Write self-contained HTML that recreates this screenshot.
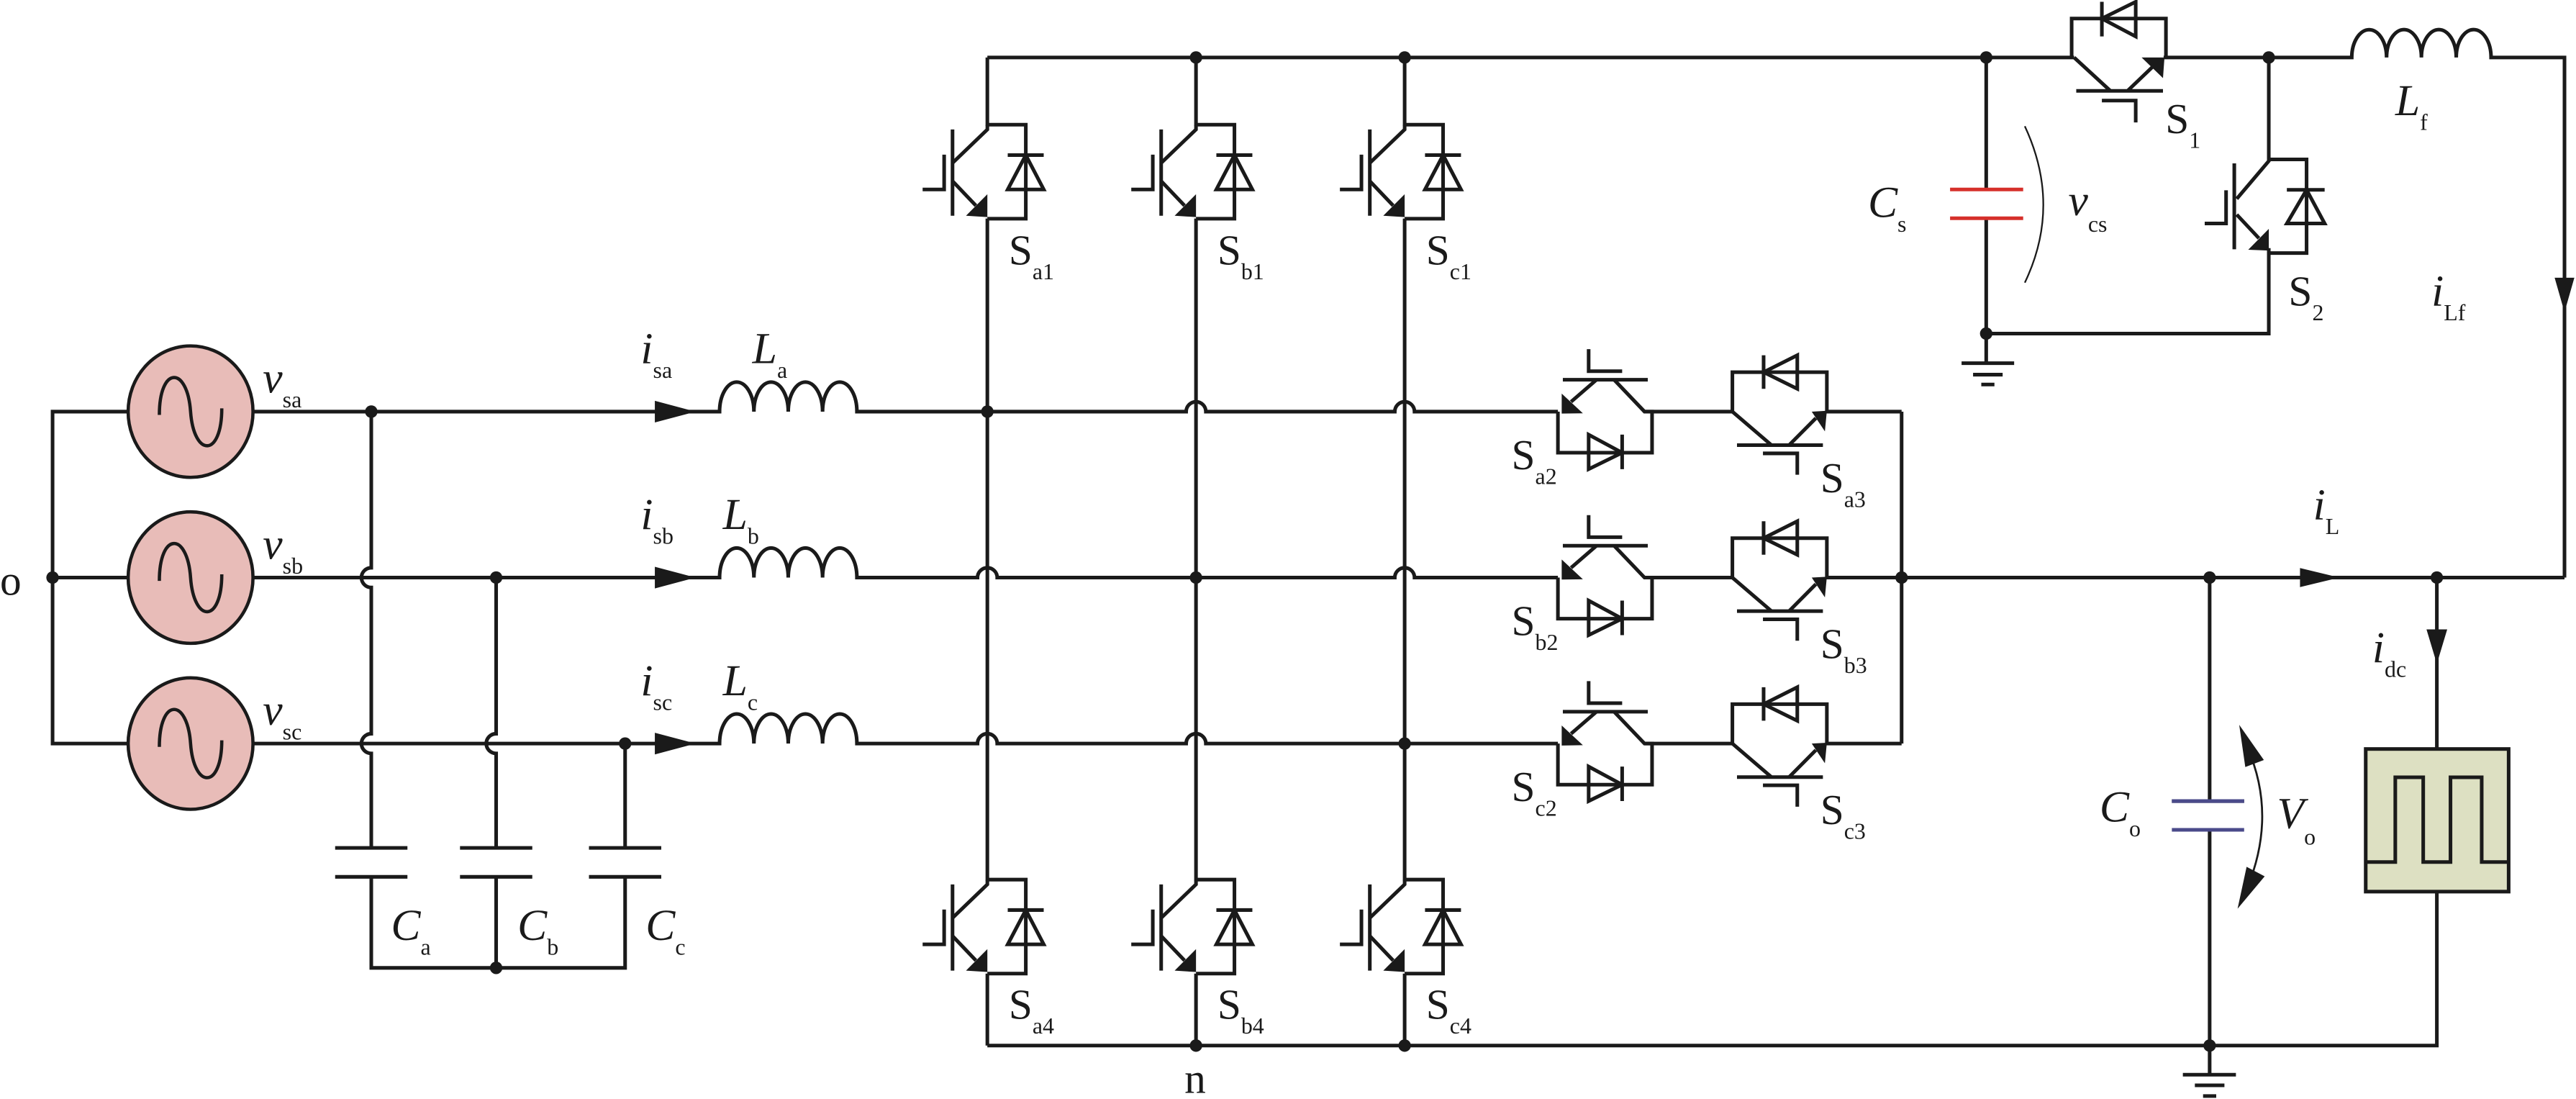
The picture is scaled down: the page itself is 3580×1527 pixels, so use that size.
<!DOCTYPE html>
<html><head><meta charset="utf-8"><style>
html,body{margin:0;padding:0;background:#fff}
svg{display:block}
text{font-family:"Liberation Serif",serif;fill:#1a1a1a}
.m{font-style:italic;font-size:27px}
.s{font-size:26px}
.sb{font-size:14px;font-style:normal}
</style></head><body>
<svg width="3580" height="1527" viewBox="0 0 1568 668.8" preserveAspectRatio="none" xmlns="http://www.w3.org/2000/svg">
<defs>
<g id="igbt" fill="none" stroke="#1a1a1a" stroke-width="2.2">
 <path d="M0,-0.5 V2.2 L-21.2,22.6"/>
 <path d="M-21.2,2.2 V54.7"/>
 <path d="M-39.4,38.7 H-26.3 V17.5"/>
 <path d="M-21.2,33.6 L-7,48.5"/>
 <path d="M0,-0.7 H23.4 V56.5 H0"/>
 <path d="M12.4,17.8 H34.3 M23.4,17.8 L12.4,38.7 H34.3 Z"/>
 <polygon fill="#1a1a1a" stroke="none" points="-13,54.7 0,41.6 0,55.5"/>
</g>
<g id="ac" fill="none" stroke="#1a1a1a" stroke-width="2.2">
 <path d="M0,0 V25 H57.3 V0 H52.7 L34.2,-19.4"/>
 <path d="M3,-19.4 H54.7"/>
 <path d="M23.5,-19.4 L8,-6"/>
 <polygon fill="#1a1a1a" stroke="none" points="2.3,-11 2.3,1.2 15.2,1"/>
 <path d="M18.7,-38 V-24.6 H39.1"/>
 <path d="M18.7,14 V35 L39.1,25 Z M39.1,14 V35"/>
 <path d="M52.7,0 H106.2 V-24 H163.7 V0 H209.2"/>
 <path d="M125.2,-34.3 V-13.9 M145.7,-34.3 V-13.9 L125.2,-24 Z"/>
 <path d="M106.2,0 L130,20.4"/>
 <path d="M109,20.4 H161.3"/>
 <path d="M140.7,20.4 L157,4"/>
 <polygon fill="#1a1a1a" stroke="none" points="154.5,0 163.7,-0.5 162.5,12"/>
 <path d="M124.8,25.4 H145.7 V38.4"/>
</g>
<g id="src">
 <ellipse cx="0" cy="0" rx="38" ry="40" fill="#e8bcb8" stroke="#1a1a1a" stroke-width="2"/>
 <path d="M-19,2 C-19,-28 -2,-28 0,0 C2,28 19,28 19,-2" fill="none" stroke="#1a1a1a" stroke-width="2"/>
</g>
</defs>

<g fill="none" stroke="#1a1a1a" stroke-width="2.2">
 <path d="M78,250.5 H32 V452.5 H78 M32,351.5 H78"/>
 <path d="M154,250.5 H438 a10.45,18 0 0 1 20.9,0 a10.45,18 0 0 1 20.9,0 a10.45,18 0 0 1 20.9,0 a10.45,18 0 0 1 20.9,0 H722 a6,6 0 0 1 12,0 H849 a6,6 0 0 1 12,0 H948.3"/>
 <path d="M154,351.5 H438 a10.45,18 0 0 1 20.9,0 a10.45,18 0 0 1 20.9,0 a10.45,18 0 0 1 20.9,0 a10.45,18 0 0 1 20.9,0 H595 a6,6 0 0 1 12,0 H849 a6,6 0 0 1 12,0 H948.3"/>
 <path d="M154,452.5 H438 a10.45,18 0 0 1 20.9,0 a10.45,18 0 0 1 20.9,0 a10.45,18 0 0 1 20.9,0 a10.45,18 0 0 1 20.9,0 H595 a6,6 0 0 1 12,0 H722 a6,6 0 0 1 12,0 H948.3"/>
 <path d="M226,250.5 V345.5 a6,6 0 0 0 0,12 V446.5 a6,6 0 0 0 0,12 V516 M204,516 H248 M204,533.6 H248 M226,533.6 V589 H380.5 V533.6"/>
 <path d="M302,351.5 V446.5 a6,6 0 0 0 0,12 V516 M280,516 H324 M280,533.6 H324 M302,533.6 V589"/>
 <path d="M380.5,452.5 V516 M358.5,516 H402.5 M358.5,533.6 H402.5"/>
 <path d="M601,35 V76.6 M601,133 V536 M601,592.5 V636.3"/>
 <path d="M728,35 V76.6 M728,133 V536 M728,592.5 V636.3"/>
 <path d="M855,35 V76.6 M855,133 V536 M855,592.5 V636.3"/>
 <path d="M601,35 H1262.5 M1261,35 V11.3 H1318.4 V35 M1317,35 H1431.5 a10.6,17 0 0 1 21.2,0 a10.6,17 0 0 1 21.2,0 a10.6,17 0 0 1 21.2,0 a10.6,17 0 0 1 21.2,0 H1561 V351.5"/>
 <path d="M601,636.3 H1483.3 V542.6 M1483.3,455.8 V351.5"/>
 <path d="M1157.5,250.5 V452.5 M1157.5,351.5 H1561"/>
 <path d="M1345,351.5 V487.5 M1322,487.5 H1366 M1345,505 V654" />
 <path d="M1328.7,654 H1361 M1336,660.5 H1354 M1341,667 H1349"/>
 <path d="M1279.4,1.1 V22.2 M1300,1.1 V22.2 L1279.4,11.3 Z"/>
 <path d="M1262.5,35 L1284.6,55.3 M1263.8,55.3 H1316.6 M1295,55.3 L1311,40 M1279.4,61.2 H1300 V74.5"/>
 <path d="M1381,35 V98 L1361.5,121 M1381,97 H1404 V154 H1381 M1381,151 V203 H1210"/>
 <path d="M1392,115.5 H1415 M1404,115.5 L1392,136 H1415 Z"/>
 <path d="M1360,99.4 V151.7 M1361.5,130.6 L1375,145 M1342,136 H1355 V115.8"/>
 <path d="M1209,35 V115.3 M1209,132.8 V221"/>
 <path d="M1194,221 H1226 M1201,228 H1219 M1206,234 H1214"/>
</g>
<polygon fill="#1a1a1a" points="1303.6,35 1317.5,35 1316.6,47.5"/>
<polygon fill="#1a1a1a" points="1368.5,152 1381,139.3 1381,152.5"/>
<path d="M1187,115.3 H1231.5 M1187,132.8 H1231.5" stroke="#d6302b" stroke-width="2.2"/>
<path d="M1232.5,76.8 Q1255,125 1232.5,172" fill="none" stroke="#1a1a1a" stroke-width="1"/>
<path d="M1322,505 H1366 M1322,487.5 H1366" stroke="#4a4a8a" stroke-width="2.2"/>
<path d="M1368,455 Q1386,496 1368,540" fill="none" stroke="#1a1a1a" stroke-width="1.2"/>
<polygon fill="#1a1a1a" points="1363,441.1 1378,462.5 1366.7,466.8"/>
<polygon fill="#1a1a1a" points="1362,553 1378.5,533.3 1367.5,527.5"/>
<rect x="1440" y="455.8" width="87" height="86.8" fill="#dde0c2" stroke="#1a1a1a" stroke-width="2.2"/>
<path d="M1440,524.6 H1458 V473 H1475 V524.6 H1491.6 V473 H1510.6 V524.6 H1527" fill="none" stroke="#1a1a1a" stroke-width="2.2"/>

<use href="#src" x="116" y="250.5"/>
<use href="#src" x="116" y="351.5"/>
<use href="#src" x="116" y="452.5"/>

<use href="#igbt" x="601" y="76.6"/>
<use href="#igbt" x="728" y="76.6"/>
<use href="#igbt" x="855" y="76.6"/>
<use href="#igbt" x="601" y="536"/>
<use href="#igbt" x="728" y="536"/>
<use href="#igbt" x="855" y="536"/>
<use href="#ac" x="948.3" y="250.5"/>
<use href="#ac" x="948.3" y="351.5"/>
<use href="#ac" x="948.3" y="452.5"/>

<g fill="#1a1a1a">
 <polygon points="398.6,243.9 423.4,250.5 398.6,257.1"/>
 <polygon points="398.6,344.9 423.4,351.5 398.6,358.1"/>
 <polygon points="398.6,445.9 423.4,452.5 398.6,459.1"/>
 <polygon points="1400,345.7 1424,351.5 1400,357.3"/>
 <polygon points="1555,169 1567,169 1561,190"/>
 <polygon points="1477,383 1489.6,383 1483.3,404"/>
 <circle cx="32" cy="351.5" r="3.8"/>
 <circle cx="226" cy="250.5" r="3.8"/>
 <circle cx="302" cy="351.5" r="3.8"/>
 <circle cx="380.5" cy="452.5" r="3.8"/>
 <circle cx="302" cy="589" r="3.8"/>
 <circle cx="601" cy="250.5" r="3.8"/>
 <circle cx="728" cy="351.5" r="3.8"/>
 <circle cx="855" cy="452.5" r="3.8"/>
 <circle cx="728" cy="35" r="3.8"/>
 <circle cx="855" cy="35" r="3.8"/>
 <circle cx="1209" cy="35" r="3.8"/>
 <circle cx="1381" cy="35" r="3.8"/>
 <circle cx="1209" cy="203" r="3.8"/>
 <circle cx="728" cy="636.3" r="3.8"/>
 <circle cx="855" cy="636.3" r="3.8"/>
 <circle cx="1345" cy="636.3" r="3.8"/>
 <circle cx="1157.5" cy="351.5" r="3.8"/>
 <circle cx="1345" cy="351.5" r="3.8"/>
 <circle cx="1483.3" cy="351.5" r="3.8"/>
</g>

<text x="0" y="362" class="s">o</text>
<text x="160" y="239" class="m">v<tspan class="sb" dy="9">sa</tspan></text>
<text x="160" y="340" class="m">v<tspan class="sb" dy="9">sb</tspan></text>
<text x="160" y="441" class="m">v<tspan class="sb" dy="9">sc</tspan></text>
<text x="390" y="221" class="m">i<tspan class="sb" dy="9">sa</tspan></text>
<text x="390" y="322" class="m">i<tspan class="sb" dy="9">sb</tspan></text>
<text x="390" y="423" class="m">i<tspan class="sb" dy="9">sc</tspan></text>
<text x="458" y="221" class="m">L<tspan class="sb" dy="9">a</tspan></text>
<text x="440" y="322" class="m">L<tspan class="sb" dy="9">b</tspan></text>
<text x="440" y="423" class="m">L<tspan class="sb" dy="9">c</tspan></text>
<text x="238" y="572" class="m">C<tspan class="sb" dy="9">a</tspan></text>
<text x="315" y="572" class="m">C<tspan class="sb" dy="9">b</tspan></text>
<text x="393" y="572" class="m">C<tspan class="sb" dy="9">c</tspan></text>
<text x="614" y="161" class="s">S<tspan class="sb" dy="9">a1</tspan></text>
<text x="741" y="161" class="s">S<tspan class="sb" dy="9">b1</tspan></text>
<text x="868" y="161" class="s">S<tspan class="sb" dy="9">c1</tspan></text>
<text x="614" y="620" class="s">S<tspan class="sb" dy="9">a4</tspan></text>
<text x="741" y="620" class="s">S<tspan class="sb" dy="9">b4</tspan></text>
<text x="868" y="620" class="s">S<tspan class="sb" dy="9">c4</tspan></text>
<text x="721" y="665" class="s">n</text>
<text x="920" y="285.5" class="s">S<tspan class="sb" dy="9">a2</tspan></text>
<text x="920" y="386.5" class="s">S<tspan class="sb" dy="9">b2</tspan></text>
<text x="920" y="487.5" class="s">S<tspan class="sb" dy="9">c2</tspan></text>
<text x="1108" y="299.5" class="s">S<tspan class="sb" dy="9">a3</tspan></text>
<text x="1108" y="400.5" class="s">S<tspan class="sb" dy="9">b3</tspan></text>
<text x="1108" y="501.5" class="s">S<tspan class="sb" dy="9">c3</tspan></text>
<text x="1137" y="132" class="m">C<tspan class="sb" dy="9">s</tspan></text>
<text x="1259" y="131" class="m">v<tspan class="sb" dy="10">cs</tspan></text>
<text x="1318" y="81" class="s">S<tspan class="sb" dy="9">1</tspan></text>
<text x="1393" y="186" class="s">S<tspan class="sb" dy="9">2</tspan></text>
<text x="1458" y="70" class="m">L<tspan class="sb" dy="9">f</tspan></text>
<text x="1480" y="186" class="m">i<tspan class="sb" dy="9">Lf</tspan></text>
<text x="1408" y="316" class="m">i<tspan class="sb" dy="9">L</tspan></text>
<text x="1444" y="403" class="m">i<tspan class="sb" dy="9">dc</tspan></text>
<text x="1278" y="500" class="m">C<tspan class="sb" dy="9">o</tspan></text>
<text x="1386" y="504" class="m">V<tspan class="sb" dy="10">o</tspan></text>
</svg>
</body></html>
